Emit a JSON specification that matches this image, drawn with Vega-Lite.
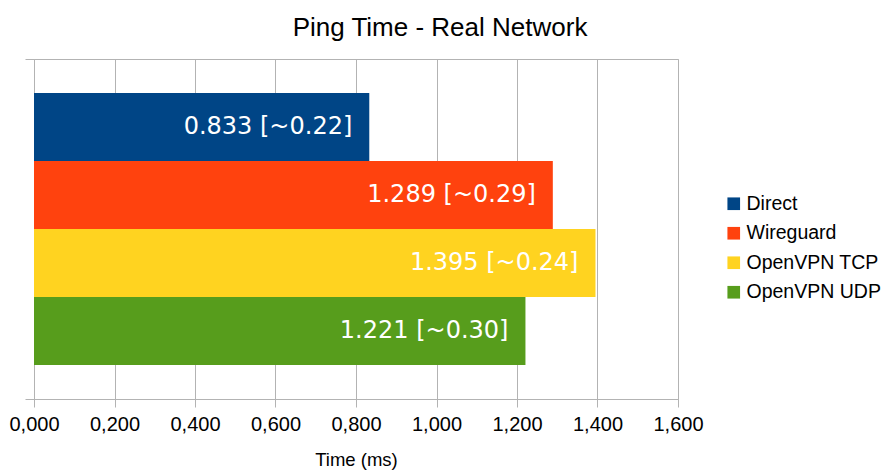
{
  "$schema": "https://vega.github.io/schema/vega-lite/v6.json",
  "width": 644,
  "height": 340,
  "autosize": {"type": "none"},
  "padding": {"left": 34, "top": 59, "right": 206, "bottom": 73},
  "background": "white",
  "title": {
    "text": "Ping Time - Real Network",
    "font": "Liberation Sans",
    "fontSize": 26,
    "fontWeight": "normal",
    "color": "#000000",
    "anchor": "middle",
    "frame": "group",
    "dx": 84,
    "offset": 18
  },
  "data": {
    "values": [
      {"cat": "A", "series": "Direct", "value": 0.833, "label": "0.833 [~0.22]"},
      {"cat": "A", "series": "Wireguard", "value": 1.289, "label": "1.289 [~0.29]"},
      {"cat": "A", "series": "OpenVPN TCP", "value": 1.395, "label": "1.395 [~0.24]"},
      {"cat": "A", "series": "OpenVPN UDP", "value": 1.221, "label": "1.221 [~0.30]"}
    ]
  },
  "config": {
    "view": {"stroke": "#b3b3b3", "strokeWidth": 1},
    "font": "Liberation Sans"
  },
  "encoding": {
    "y": {
      "field": "cat",
      "type": "nominal",
      "scale": {"paddingInner": 0, "paddingOuter": 0},
      "axis": {
        "labels": false,
        "title": null,
        "tickBand": "extent",
        "tickSize": 9,
        "tickColor": "#b3b3b3",
        "domainColor": "#b3b3b3",
        "grid": false
      }
    },
    "yOffset": {
      "field": "series",
      "type": "nominal",
      "sort": ["Direct", "Wireguard", "OpenVPN TCP", "OpenVPN UDP"],
      "scale": {"paddingInner": 0, "paddingOuter": 0.5}
    },
    "x": {
      "field": "value",
      "type": "quantitative",
      "scale": {"domain": [0, 1.6], "nice": false},
      "axis": {
        "values": [0, 0.2, 0.4, 0.6, 0.8, 1.0, 1.2, 1.4, 1.6],
        "format": ".3f",
        "labelExpr": "replace(datum.label, '.', ',')",
        "labelFlush": false,
        "labelOverlap": false,
        "labelFont": "Liberation Sans",
        "labelFontSize": 20,
        "labelColor": "#000000",
        "labelPadding": 7,
        "tickSize": 8,
        "tickColor": "#b3b3b3",
        "domainColor": "#b3b3b3",
        "gridColor": "#b3b3b3",
        "title": "Time (ms)",
        "titleFont": "Liberation Sans",
        "titleFontSize": 18.5,
        "titleFontWeight": "normal",
        "titleColor": "#000000",
        "titlePadding": 16
      }
    }
  },
  "layer": [
    {
      "mark": {"type": "bar"},
      "encoding": {
        "color": {
          "field": "series",
          "type": "nominal",
          "sort": ["Direct", "Wireguard", "OpenVPN TCP", "OpenVPN UDP"],
          "scale": {
            "domain": ["Direct", "Wireguard", "OpenVPN TCP", "OpenVPN UDP"],
            "range": ["#004586", "#ff420e", "#ffd320", "#579d1c"]
          },
          "legend": {
            "title": null,
            "orient": "none",
            "legendX": 690,
            "legendY": 135,
            "symbolType": "square",
            "symbolSize": 160,
            "symbolStrokeWidth": 0,
            "labelFont": "Liberation Sans",
            "labelFontSize": 19.5,
            "labelColor": "#000000",
            "labelOffset": 3,
            "rowPadding": 8.5
          }
        }
      }
    },
    {
      "mark": {
        "type": "text",
        "align": "right",
        "baseline": "middle",
        "dx": -17,
        "font": "DejaVu Sans",
        "fontSize": 24,
        "color": "white"
      },
      "encoding": {"text": {"field": "label"}}
    }
  ]
}
